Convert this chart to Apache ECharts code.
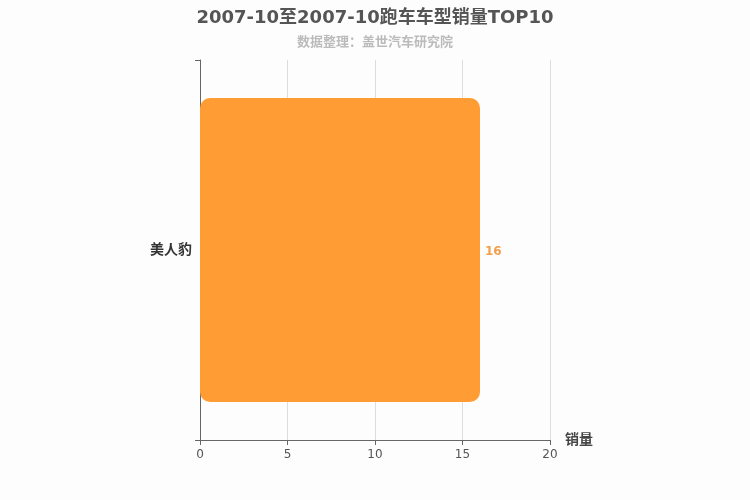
<!DOCTYPE html>
<html><head><meta charset="utf-8">
<script src="https://cdn.jsdelivr.net/npm/echarts@6/dist/echarts.min.js"></script>
<style>html,body{margin:0;padding:0;background:#fdfdfd;}#c{width:750px;height:500px;}</style>
</head><body><div id="c"></div>
<script>
const titleText = '2007-10至2007-10跑车车型销量TOP10';
const subText = '数据整理：盖世汽车研究院';
const categories = ['美人豹'];
const sales = [16];
const xTicks = [0, 5, 10, 15, 20];

const chart = echarts.init(document.getElementById('c'));
chart.setOption({
  backgroundColor: '#fdfdfd',
  textStyle: { fontFamily: 'DejaVu Sans, Noto Sans CJK SC' },
  title: {
    text: titleText, subtext: subText, left: 'center', top: 4, itemGap: 9,
    textStyle: { fontSize: 18, fontWeight: 'bold', color: '#555' },
    subtextStyle: { fontSize: 13, fontWeight: 'bold', color: '#bbb' }
  },
  grid: { left: 200, right: 200, top: 60, bottom: 60 },
  xAxis: {
    type: 'value', min: xTicks[0], max: xTicks[xTicks.length - 1], interval: 5,
    name: '销量', nameGap: 15,
    nameTextStyle: { fontSize: 14, fontWeight: 'bold', color: '#444', verticalAlign: 'middle' },
    axisLine: { show: true, lineStyle: { color: '#666' } },
    axisTick: { show: true, lineStyle: { color: '#666' } },
    axisLabel: { color: '#555', fontSize: 12, margin: 9 },
    splitLine: { lineStyle: { color: '#ddd' } }
  },
  yAxis: {
    type: 'category', data: categories,
    axisLine: { show: true, lineStyle: { color: '#666' } },
    axisTick: { show: true, lineStyle: { color: '#666' } },
    axisLabel: { color: '#333', fontSize: 14, fontWeight: 'bold', padding: [3, 0, 0, 0] },
    splitLine: { show: false }
  },
  series: [{
    type: 'bar', data: sales, barWidth: '80%',
    itemStyle: { color: '#ff9c33', borderRadius: 10 },
    label: { show: true, position: 'right', color: '#f0a04b', fontWeight: 'bold', fontSize: 12, offset: [0, 2] }
  }]
});
</script></body></html>
